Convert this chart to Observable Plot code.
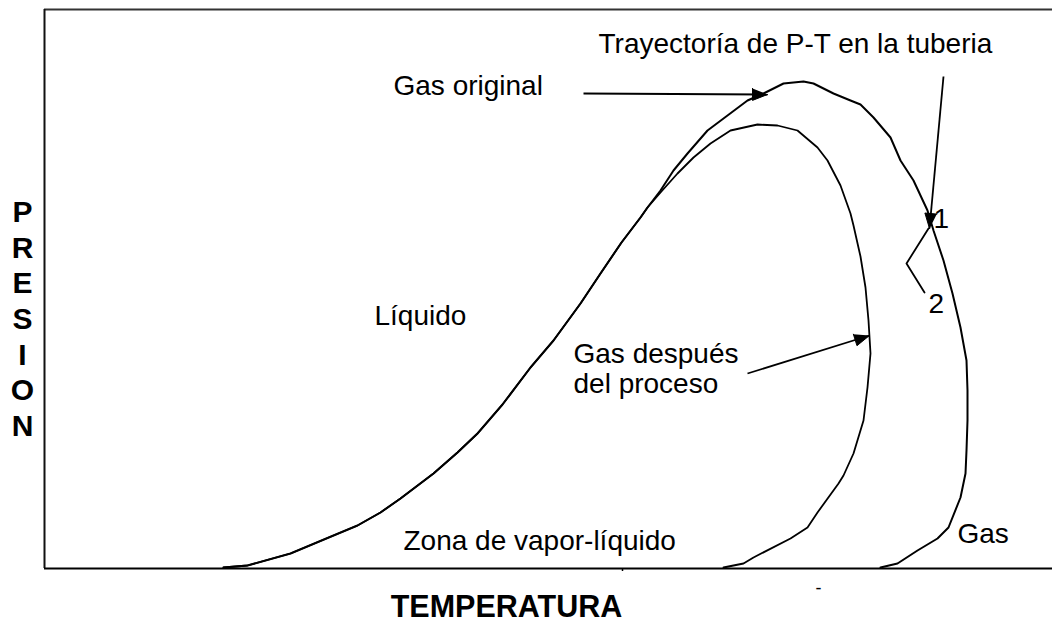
<!DOCTYPE html>
<html><head><meta charset="utf-8">
<script src="https://cdn.jsdelivr.net/npm/d3@7"></script>
<script src="https://cdn.jsdelivr.net/npm/@observablehq/plot@0.6"></script>
<style>body{margin:0;background:#fff}#chart svg{display:block}</style>
</head><body><div id="chart"></div>
<script>
// Envolvente "Gas original" (T, P en unidades arbitrarias)
const outerT = [17.9,20.3,24.6,28.9,31.3,33.6,35.6,38.9,41.3,43.3,45.8,48.6,50.9,53.6,55.6,57.7,59.6,60.3,61.6,62.9,64.3,66.3,68.3,70.3,71.9,73.9,75.9,76.9,78.9,80.6,81.6,82.9,84.6,85.6,86.9,88.3,88.9,89.9,90.8,91.6,92.2,92.3,92.3,92.2,92.1,91.6,90.4,89.3,87.3,85.3,83.6];
const outerP = [0.2,0.6,3.0,6.6,8.6,11.2,14.0,19.0,23.2,27.0,32.8,40.2,45.6,53.0,59.0,65.2,70.2,72.2,75.6,79.6,83.0,87.6,90.6,93.6,95.0,97.0,97.4,97.0,95.0,93.6,92.8,90.2,86.2,81.6,77.6,71.6,67.6,61.6,55.0,48.2,41.6,35.6,29.6,23.6,19.0,14.2,8.2,6.0,3.6,1.0,0.2];
// Envolvente "Gas después del proceso"
const innerT = [17.9,20.3,24.6,28.9,31.3,33.6,35.6,38.9,41.3,43.3,45.8,48.6,50.9,53.6,55.6,57.7,59.6,60.3,61.6,63.3,64.9,66.6,68.6,71.3,73.3,75.3,77.3,78.3,79.6,80.6,80.9,81.6,82.1,82.4,82.6,82.3,81.9,80.9,79.9,79.4,77.3,76.3,74.6,70.9,69.9,67.9];
const innerP = [0.2,0.6,3.0,6.6,8.6,11.2,14.0,19.0,23.2,27.0,32.8,40.2,45.6,53.0,59.0,65.2,70.2,72.2,75.2,79.0,82.2,85.0,87.6,88.8,88.6,87.6,84.2,81.6,76.6,71.0,68.6,62.4,56.2,49.6,43.0,36.2,29.6,23.0,18.6,17.0,11.2,8.2,6.0,2.2,1.0,0.2];
// Flechas
const arrowT1 = [53.9, 70.3, 89.9];
const arrowP1 = [95.0, 39.0, 98.4];
const arrowT2 = [72.3, 82.5, 88.5];
const arrowP2 = [94.8, 46.6, 68.0];
// Trayectoria 1 -> 2
const pathT = [88.4, 86.2, 88.0];
const pathP = [68.0, 61.0, 55.2];
// Etiquetas
const labelText = ["Trayectoría de P-T en la tuberia", "Gas original", "Líquido", "Gas después\ndel proceso", "Zona de vapor-líquido", "Gas", "1", "2"];
const labelT = [55.4, 34.9, 33.0, 52.9, 35.9, 91.3, 88.9, 88.4];
const labelP = [105.0, 96.6, 50.6, 40.0, 5.6, 7.0, 70.0, 53.0];
const xTitle = "TEMPERATURA";
const yTitle = "PRESION";
const tickT = [57.8];
const dashT = [77.4];

const W = 1052, H = 625, mL = 44, mR = 0, mT = 9, mB = 57;
const xDom = [0, 100.8], yDom = [0, 111.8];
const kx = (W - mL - mR) / (xDom[1] - xDom[0]);
const ky = (H - mT - mB) / (yDom[1] - yDom[0]);

const outer = outerT.map((t, i) => ({T: t, P: outerP[i]}));
const inner = innerT.map((t, i) => ({T: t, P: innerP[i]}));
const arrows = arrowT1.map((t, i) => ({T1: t, P1: arrowP1[i], T2: arrowT2[i], P2: arrowP2[i]}));
const path = pathT.map((t, i) => ({T: t, P: pathP[i]}));
const labels = labelText.map((s, i) => ({s, T: labelT[i], P: labelP[i]}));

// arrowheads as filled triangles derived from the arrow data
const heads = [];
arrows.forEach((a, id) => {
  const dxp = (a.T2 - a.T1) * kx, dyp = -(a.P2 - a.P1) * ky;
  const L = Math.hypot(dxp, dyp), ux = dxp / L, uy = dyp / L;
  const len = 15, half = 6;
  const bx = -ux * len, by = -uy * len, px = -uy * half, py = ux * half;
  heads.push({id, T: a.T2, P: a.P2});
  heads.push({id, T: a.T2 + (bx + px) / kx, P: a.P2 - (by + py) / ky});
  heads.push({id, T: a.T2 + (bx - px) / kx, P: a.P2 - (by - py) / ky});
});

const chart = Plot.plot({
  width: W, height: H,
  marginLeft: mL, marginRight: mR, marginTop: mT, marginBottom: mB,
  style: {fontFamily: "'Liberation Sans', Arial, sans-serif", background: "#fff", color: "#000"},
  x: {domain: xDom, axis: null},
  y: {domain: yDom, axis: null},
  marks: [
    Plot.ruleY([yDom[1]], {stroke: "#333", strokeWidth: 2}),
    Plot.ruleX([xDom[0]], {stroke: "#111", strokeWidth: 2}),
    Plot.axisX(tickT, {tickSize: 3, tickFormat: () => "", strokeWidth: 1.5}),
    Plot.ruleY([yDom[0]], {stroke: "#000", strokeWidth: 2}),
    Plot.line(outer, {x: "T", y: "P", stroke: "#000", strokeWidth: 2, curve: "linear"}),
    Plot.line(inner, {x: "T", y: "P", stroke: "#000", strokeWidth: 1.8, curve: "linear"}),
    Plot.link(arrows, {x1: "T1", y1: "P1", x2: "T2", y2: "P2", stroke: "#000", strokeWidth: 1.8}),
    Plot.line(heads, {x: "T", y: "P", z: "id", fill: "#000", stroke: "#000", strokeWidth: 1}),
    Plot.line(path, {x: "T", y: "P", stroke: "#000", strokeWidth: 1.8}),
    Plot.text(labels, {x: "T", y: "P", text: "s", textAnchor: "start", fontSize: 28, lineHeight: 1.07, fill: "#000"}),
    Plot.text([xTitle], {x: [46.2], y: [-7.7], text: d => d, fontSize: 30.5, fontWeight: "bold", fill: "#000"}),
    Plot.text([yTitle.split("").join("\n")], {x: [-2.2], y: [50.2], text: d => d, fontSize: 30, fontWeight: "bold", lineHeight: 1.19, fill: "#000"}),
    Plot.text(dashT, {x: d => d, y: [-4.0], text: () => "-", fontSize: 18, fill: "#000"})
  ]
});
document.getElementById("chart").appendChild(chart);
</script>
</body></html>
